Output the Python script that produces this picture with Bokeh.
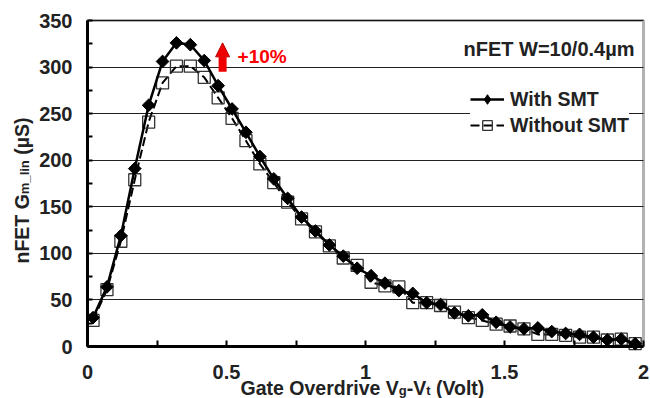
import math
from bokeh.plotting import figure
from bokeh.models import (Label, Legend, LegendItem, Arrow, NormalHead, FixedTicker,
                          BoxAnnotation)
from bokeh.embed import file_html
from bokeh.resources import INLINE

# ---------------- data ----------------
vgt = [0.02, 0.07, 0.12, 0.17, 0.22, 0.27, 0.32, 0.37, 0.42, 0.47,
       0.52, 0.57, 0.62, 0.67, 0.72, 0.77, 0.82, 0.87, 0.92, 0.97,
       1.02, 1.07, 1.12, 1.17, 1.22, 1.27, 1.32, 1.37, 1.42, 1.47,
       1.52, 1.57, 1.62, 1.67, 1.72, 1.77, 1.82, 1.87, 1.92, 1.97]
gm_with_smt = [31, 64, 119, 191, 259, 306, 326, 324, 307, 280,
               255, 230, 204, 180, 159, 139, 124, 109, 97, 84,
               76, 68, 60, 57, 47, 45, 36, 33, 34, 26,
               21, 19, 20, 16, 14, 13, 10, 7, 8, 3]
gm_without_smt = [28, 61, 113, 179, 241, 283, 301, 301, 289, 267,
                  245, 221, 196, 176, 155, 137, 123, 108, 95, 87,
                  69, 65, 64, 47, 47, 44, 37, 31, 28, 24,
                  22, 19, 13, 13, 12, 10, 10, 7, 8, 3]
x_ticks = [0, 0.5, 1, 1.5, 2]
x_tick_labels = ["0", "0.5", "1", "1.5", "2"]
x_minor_ticks = [0.25, 0.75, 1.25, 1.75]
y_ticks = [0, 50, 100, 150, 200, 250, 300, 350]
y_minor_ticks = [25, 75, 125, 175, 225, 275, 325]
series_names = ["With SMT", "Without SMT"]
device_title = "nFET W=10/0.4\u00b5m"
gain_text = "+10%"

FONT = "Liberation Sans"
TXT = "#222222"

# ---------------- layout: frame fills the canvas; axes are pinned at 0 ----------------
WIDTH, HEIGHT = 650, 398
X0, X1 = x_ticks[0], x_ticks[-1]
Y0, Y1 = y_ticks[0], y_ticks[-1]
PX_LEFT, PX_RIGHT, PX_TOP, PX_BOTTOM = 87, 643, 20, 346   # plot-area edges in pixels
xs = (PX_RIGHT - PX_LEFT) / (X1 - X0)
ys = (PX_BOTTOM - PX_TOP) / (Y1 - Y0)
x_range = (X0 - PX_LEFT / xs, X1 + (WIDTH - PX_RIGHT) / xs)
y_range = (Y0 - (HEIGHT - PX_BOTTOM) / ys, Y1 + PX_TOP / ys)

p = figure(width=WIDTH, height=HEIGHT, x_range=x_range, y_range=y_range,
           output_backend="svg", toolbar_location=None,
           min_border=0, min_border_left=0, min_border_right=0,
           min_border_top=0, min_border_bottom=0)
p.title.visible = False
p.background_fill_color = "white"
p.border_fill_color = "white"
p.outline_line_color = None

# plot-area box
p.add_layout(BoxAnnotation(left=X0, right=X1, bottom=Y0, top=Y1, fill_alpha=0,
                           line_color="black", line_width=3, level="overlay"))

# axes
for ax in (p.xaxis, p.yaxis):
    ax.fixed_location = 0
    ax.axis_line_width = 3
    ax.axis_line_color = "black"
    ax.major_tick_out = 0
    ax.minor_tick_out = 0
    ax.major_tick_line_width = 2
    ax.minor_tick_line_width = 2
    ax.major_tick_line_color = "black"
    ax.minor_tick_line_color = "black"
    ax.major_label_text_font = FONT
    ax.major_label_text_font_style = "bold"
    ax.major_label_text_font_size = "20px"
    ax.major_label_text_color = TXT

p.xaxis.bounds = (X0, X1)
p.xaxis.ticker = FixedTicker(ticks=x_ticks, minor_ticks=x_minor_ticks)
p.xaxis.major_label_overrides = {t: l for t, l in zip(x_ticks, x_tick_labels)}
p.xaxis.major_tick_in = 6
p.xaxis.minor_tick_in = 6
p.xaxis.major_label_standoff = 18

p.yaxis.bounds = (Y0, Y1)
p.yaxis.ticker = FixedTicker(ticks=y_ticks, minor_ticks=y_minor_ticks)
p.yaxis.major_tick_in = 5
p.yaxis.minor_tick_in = 5
p.yaxis.major_label_standoff = 15

p.xgrid.visible = False
yg = p.ygrid[0]
yg.grid_line_color = "#222222"
yg.grid_line_width = 1
yg.bounds = (Y0, Y1)
if "cross_bounds" in yg.properties():
    yg.cross_bounds = (X0, X1)

# series
l_wo = p.line(vgt, gm_without_smt, line_color="black", line_width=2, line_dash="9 4")
s_wo = p.scatter(vgt, gm_without_smt, marker="square", size=12, fill_color=None,
                 line_color="#333333", line_width=1.3)
l_w = p.line(vgt, gm_with_smt, line_color="black", line_width=2.5)
s_w = p.scatter(vgt, gm_with_smt, marker="square", angle=math.pi / 4, size=9,
                fill_color="black", line_color="black", line_width=1)

# legend-only marker style (the legend does not rotate markers)
lg_w = p.scatter([float("nan")], [float("nan")], marker="diamond",
                 fill_color="black", line_color="black")

legend = Legend(items=[LegendItem(label=series_names[0], renderers=[l_w, lg_w]),
                       LegendItem(label=series_names[1], renderers=[l_wo, s_wo])],
                location=(470, 261), background_fill_color="white", background_fill_alpha=1,
                border_line_color=None, label_text_font=FONT, label_text_font_style="bold",
                label_text_font_size="19.5px", label_text_color=TXT,
                glyph_width=34, glyph_height=24, label_standoff=6, spacing=2,
                padding=5, margin=0)
p.add_layout(legend)

# annotations
p.add_layout(Label(x=634, y=339, x_units="screen", y_units="screen", text=device_title,
                   text_align="right", text_font=FONT, text_font_style="bold",
                   text_font_size="20px", text_color=TXT))
p.add_layout(Arrow(x_start=0.486, y_start=295, x_end=0.486, y_end=326,
                   line_color="#ee0000", line_width=8,
                   end=NormalHead(size=14, fill_color="#ee0000", line_color="#bb0000", line_width=1)))
p.add_layout(Label(x=0.54, y=300, text=gain_text, text_font=FONT,
                   text_font_style="bold", text_font_size="19px", text_color="#ff0000"))

# axis titles with subscripts
W = {'G': .778, 'a': .556, 't': .333, 'e': .556, ' ': .278, 'O': .778, 'v': .556,
     'r': .389, 'd': .611, 'i': .278, 'V': .667, 'g': .611, '-': .333, '(': .333,
     ')': .333, 'o': .611, 'l': .278, 'n': .611, 'F': .611, 'E': .667, 'T': .611,
     'm': .889, '_': .556, '\u00b5': .576, 'S': .667}
MAIN, SUB, SHIFT = 19.5, 13, 3


def tw(s, size):
    return sum(W[c] for c in s) * size


def title_pieces(pieces, start, base, rotate):
    pos = start
    for txt, sub in pieces:
        size = SUB if sub else MAIN
        lead = len(txt) - len(txt.lstrip(" "))
        pos += tw(" " * lead, size)
        t = txt.lstrip(" ")
        off = SHIFT if sub else 0
        if rotate:
            lab = Label(x=base + off, y=pos, angle=math.pi / 2)
        else:
            lab = Label(x=pos, y=base - off)
        lab.update(x_units="screen", y_units="screen", text=t, text_align="left",
                   text_baseline="alphabetic", text_font=FONT,
                   text_font_style="bold", text_font_size=f"{size}px", text_color=TXT)
        p.add_layout(lab)
        pos += tw(t, size)


title_pieces([("Gate Overdrive V", False), ("g", True), ("-V", False), ("t", True),
              (" (Volt)", False)], start=240, base=11, rotate=False)
title_pieces([("nFET G", False), ("m_lin", True), (" (\u00b5S)", False)],
             start=135, base=21, rotate=True)

open("out.html", "w").write(file_html(p, INLINE))
